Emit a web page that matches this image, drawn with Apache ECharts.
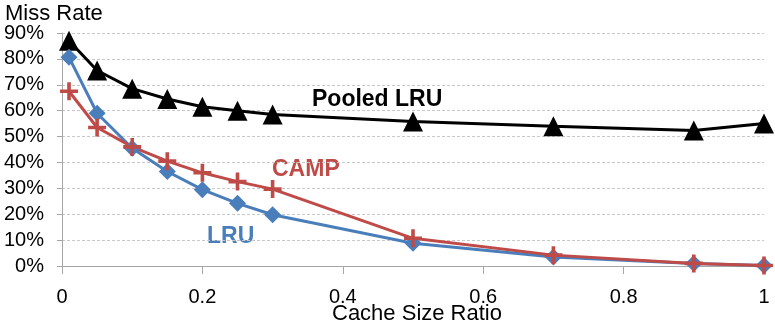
<!DOCTYPE html>
<html>
<head>
<meta charset="utf-8">
<script src="https://cdn.jsdelivr.net/npm/echarts@6/dist/echarts.min.js"></script>
<style>
  html, body { margin: 0; padding: 0; background: #fff; }
  #chart { width: 775px; height: 327px; }
</style>
</head>
<body>
<div id="chart"></div>
<script>
// cache size ratios (x)
var sizeRatio = [0.01, 0.05, 0.1, 0.15, 0.2, 0.25, 0.3, 0.5, 0.7, 0.9, 1.0];
// miss rates in %
var pooledLru = [87, 75.5, 68.5, 64.5, 61.5, 60, 58.5, 55.8, 54, 52.3, 55];
var lru = [80.6, 59, 45.5, 36.5, 29.5, 24.2, 19.8, 8.8, 3.5, 1, 0.2];
var camp = [67.5, 53.5, 46, 40.5, 36, 32.6, 29.7, 10.7, 4.2, 1, 0.2];
var yTicks = [0, 10, 20, 30, 40, 50, 60, 70, 80, 90];

function pairs(vals) {
  return sizeRatio.map(function (x, i) { return [x, vals[i]]; });
}

var plusPath = 'path://M4,0H6V4H10V6H6V10H4V6H0V4H4Z';
var font = 'Liberation Sans, Arial, sans-serif';

var chart = echarts.init(document.getElementById('chart'));
chart.setOption({
  animation: false,
  grid: { left: 62, right: 11, top: 33, bottom: 61, outerBoundsMode: 'none', containLabel: false },
  xAxis: {
    type: 'value', min: 0, max: 1, interval: 0.2,
    axisLine: { show: true, lineStyle: { color: '#a6a6a6', width: 1 } },
    axisTick: { show: true, length: 8, lineStyle: { color: '#a6a6a6' } },
    axisLabel: { fontFamily: font, fontSize: 20, color: '#000', margin: 21 },
    splitLine: { show: false }
  },
  yAxis: {
    type: 'value', min: 0, max: 90, interval: 10,
    axisLine: { show: true, lineStyle: { color: '#a6a6a6', width: 1 } },
    axisTick: { show: true, length: 5, lineStyle: { color: '#a6a6a6' } },
    axisLabel: {
      fontFamily: font, fontSize: 20, color: '#000', margin: 18,
      formatter: function (v) { return yTicks.indexOf(v) >= 0 ? v + '%' : ''; }
    },
    splitLine: { show: true, lineStyle: { color: '#c8c8c8', type: [3, 2], width: 1 } }
  },
  series: [
    {
      name: 'Pooled LRU', type: 'line', data: pairs(pooledLru),
      symbol: 'triangle', symbolSize: 20,
      lineStyle: { color: '#000', width: 3 },
      itemStyle: { color: '#000' }
    },
    {
      name: 'LRU', type: 'line', data: pairs(lru),
      symbol: 'diamond', symbolSize: 17,
      lineStyle: { color: '#4a7ebb', width: 3 },
      itemStyle: { color: '#4a7ebb' }
    },
    {
      name: 'CAMP', type: 'line', data: pairs(camp),
      symbol: plusPath, symbolSize: 18,
      lineStyle: { color: '#be4b48', width: 3 },
      itemStyle: { color: '#be4b48' }
    }
  ],
  graphic: [
    // axis titles
    { type: 'text', left: 5, top: 3, style: { text: 'Miss Rate', font: '22px ' + font, fill: '#000' } },
    { type: 'text', left: 332, top: 303, style: { text: 'Cache Size Ratio', font: '22px ' + font, fill: '#000' } },
    // series labels
    { type: 'text', left: 312, top: 88, style: { text: 'Pooled LRU', font: 'bold 23px ' + font, fill: '#000' } },
    { type: 'text', left: 272, top: 158, style: { text: 'CAMP', font: 'bold 23px ' + font, fill: '#be4b48' } },
    { type: 'text', left: 207, top: 225, style: { text: 'LRU', font: 'bold 23px ' + font, fill: '#4a7ebb' } }
  ]
});
</script>
</body>
</html>
